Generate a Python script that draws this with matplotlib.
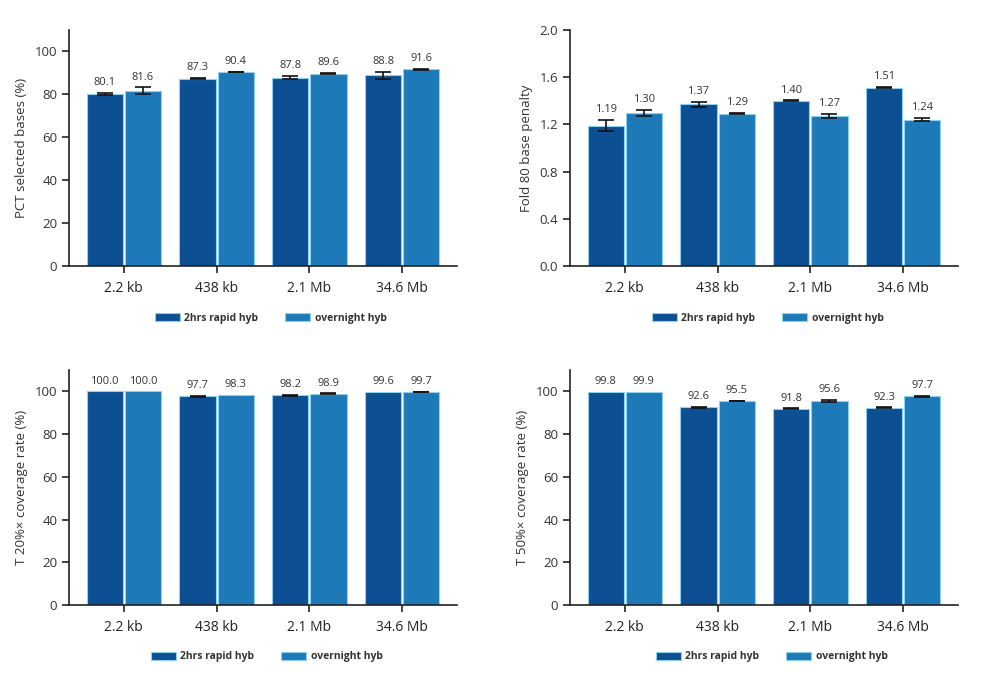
import numpy as np
import matplotlib
matplotlib.use("Agg")
import matplotlib.pyplot as plt

plt.rcParams['font.family'] = ['Open Sans', 'DejaVu Sans']

# data
panels = ["2.2 kb", "438 kb", "2.1 Mb", "34.6 Mb"]
series_names = ["2hrs rapid hyb", "overnight hyb"]

pct_rapid = [80.1, 87.3, 87.8, 88.8]
pct_rapid_err = [0.4, 0.2, 0.7, 1.6]
pct_night = [81.6, 90.4, 89.6, 91.6]
pct_night_err = [1.6, 0.2, 0.2, 0.2]

fold_rapid = [1.19, 1.37, 1.40, 1.51]
fold_rapid_err = [0.05, 0.02, 0.003, 0.004]
fold_night = [1.30, 1.29, 1.27, 1.24]
fold_night_err = [0.025, 0.004, 0.015, 0.015]

t20_rapid = [100.0, 97.7, 98.2, 99.6]
t20_rapid_err = [0.0, 0.2, 0.15, 0.0]
t20_night = [100.0, 98.3, 98.9, 99.7]
t20_night_err = [0.0, 0.0, 0.15, 0.15]

t50_rapid = [99.8, 92.6, 91.8, 92.3]
t50_rapid_err = [0.0, 0.15, 0.2, 0.2]
t50_night = [99.9, 95.5, 95.6, 97.7]
t50_night_err = [0.0, 0.15, 0.35, 0.25]

dark = '#0c4f92'
light = '#1d79b8'
edge = '#8fd0f0'

fig = plt.figure(figsize=(10, 6.79), dpi=100)


def bar_panel(rect, a, a_err, b, b_err, ylabel, ylim, yticks, fmt, ytick_fmt, leg_anchor):
    ax = fig.add_axes(rect)
    x = np.arange(len(panels))
    w = 0.39
    g = 0.01
    for vals, errs, off, col, name in [(a, a_err, -(w / 2 + g), dark, series_names[0]),
                                       (b, b_err, (w / 2 + g), light, series_names[1])]:
        ax.bar(x + off, vals, w, color=col, edgecolor=edge, linewidth=0.8, label=name, zorder=2)
        for xi, v, e in zip(x + off, vals, errs):
            if e > 0:
                ax.errorbar(xi, v, yerr=e, fmt='none', ecolor='#111111',
                            elinewidth=1.2, capsize=6, capthick=1.2, zorder=3)
            ax.annotate(fmt.format(v), (xi, v + e), xytext=(0, 3.5), textcoords='offset points',
                        ha='center', va='bottom', fontsize=8, color='#333333')
    ax.set_xlim(-0.59, 3.59)
    ax.set_ylim(*ylim)
    ax.set_yticks(yticks)
    ax.set_yticklabels([ytick_fmt.format(t) for t in yticks], fontsize=9.5, color='#333333')
    ax.set_xticks(x)
    ax.set_xticklabels(panels, fontsize=10, color='#222222')
    ax.set_ylabel(ylabel, fontsize=9.5, color='#333333', labelpad=5)
    for s in ['top', 'right']:
        ax.spines[s].set_visible(False)
    for s in ['left', 'bottom']:
        ax.spines[s].set_linewidth(1.2)
        ax.spines[s].set_color('#222222')
    ax.tick_params(axis='both', direction='out', length=5, width=1.2, color='#222222')
    ax.tick_params(axis='x', pad=6)
    leg = ax.legend(loc='center', bbox_to_anchor=leg_anchor, ncol=2, frameon=False,
                    handlelength=2.4, handleheight=0.8, columnspacing=2.6, handletextpad=0.4,
                    prop={'size': 7.5, 'weight': 'bold'})
    for t in leg.get_texts():
        t.set_color('#333333')
    return ax


bar_panel([0.069, 0.608, 0.388, 0.348], pct_rapid, pct_rapid_err, pct_night, pct_night_err,
          "PCT selected bases (%)", (0, 110), [0, 20, 40, 60, 80, 100], "{:.1f}", "{:d}",
          (0.52, -0.22))
bar_panel([0.570, 0.608, 0.388, 0.348], fold_rapid, fold_rapid_err, fold_night, fold_night_err,
          "Fold 80 base penalty", (0, 2.0), [0.0, 0.4, 0.8, 1.2, 1.6, 2.0], "{:.2f}", "{:.1f}",
          (0.51, -0.22))
bar_panel([0.069, 0.109, 0.388, 0.346], t20_rapid, t20_rapid_err, t20_night, t20_night_err,
          "T 20%\u00d7 coverage rate (%)", (0, 110), [0, 20, 40, 60, 80, 100], "{:.1f}", "{:d}",
          (0.51, -0.22))
bar_panel([0.570, 0.109, 0.388, 0.346], t50_rapid, t50_rapid_err, t50_night, t50_night_err,
          "T 50%\u00d7 coverage rate (%)", (0, 110), [0, 20, 40, 60, 80, 100], "{:.1f}", "{:d}",
          (0.52, -0.22))

fig.savefig("out.png", dpi=100)
